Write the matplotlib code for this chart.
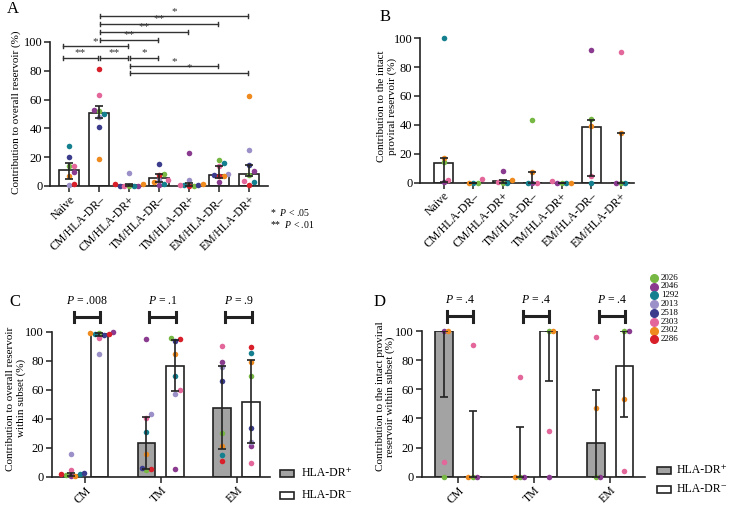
import numpy as np
import matplotlib
matplotlib.use('Agg')
import matplotlib.pyplot as plt
from matplotlib.lines import Line2D
from matplotlib.patches import Rectangle

plt.rcParams['font.family'] = ['Liberation Serif', 'DejaVu Serif']
plt.rcParams['mathtext.fontset'] = 'custom'
plt.rcParams['mathtext.it'] = 'Liberation Serif:italic'
plt.rcParams['mathtext.rm'] = 'Liberation Serif'

# subjects (order used in every value list below)
subjects = ['2026', '2046', '1292', '2013', '2518', '2303', '2302', '2286']
subj_colors = ['#76b843', '#8a3b8f', '#14808f', '#9c90c8', '#3b3d8c', '#e3679b', '#ef8a1e', '#d81f2a']
nan = np.nan

# ---- panel A: contribution to overall reservoir
a_cats = ['Naive', 'CM/HLA-DR–', 'CM/HLA-DR+', 'TM/HLA-DR–', 'TM/HLA-DR+', 'EM/HLA-DR–', 'EM/HLA-DR+']
a_points = [
    [13.7, 9.8, 28.1, 0.8, 19.9, 14.1, 7.2, 1.7],
    [52.2, 53.1, 50.3, 47.6, 40.9, 63.0, 18.9, 81.5],
    [0.0, 0.2, 0.0, 9.1, 0.3, 0.1, 1.2, 1.2],
    [8.4, 0.8, 1.7, 4.5, 15.5, 4.5, 2.9, 7.5],
    [0.3, 22.9, 0.5, 4.5, 1.0, 1.0, 1.5, 0.0],
    [18.3, 2.9, 16.0, 8.5, 7.5, 13.7, 6.8, 6.8],
    [7.9, 10.2, 2.9, 24.7, 14.8, 3.3, 62.4, 0.6],
]
a_median = [11.4, 50.8, 0.6, 5.5, 1.0, 7.6, 8.6]
a_q1 = [5.2, 46.9, 0.1, 2.5, 0.3, 5.5, 6.9]
a_q3 = [16.0, 55.4, 1.2, 8.0, 1.8, 13.7, 14.3]
# significance: (from category, to category, label)
a_sig = [(0, 1, '**'), (1, 2, '**'), (2, 3, '*'), (0, 2, '*'), (1, 3, '**'),
         (1, 4, '**'), (1, 5, '**'), (1, 6, '*'), (2, 5, '*'), (2, 6, '*')]
a_sig_level = [89, 89, 89, 97, 101.5, 107, 112.5, 118, 83.3, 78.5]

# ---- panel B: contribution to intact proviral reservoir
b_points = [
    [13.9, 0.3, 100.0, nan, nan, 1.4, 17.3, nan],
    [0.0, nan, 0.0, nan, nan, 2.6, 0.0, nan],
    [0.0, 8.3, 0.0, nan, nan, 0.3, 1.9, nan],
    [43.4, 0.0, 0.0, nan, nan, 0.0, 7.4, nan],
    [0.0, 0.0, 0.0, nan, nan, 1.2, 0.0, nan],
    [43.9, 91.9, 0.0, nan, nan, 4.6, 39.2, nan],
    [0.0, 0.0, 0.0, nan, nan, 90.2, 34.6, nan],
]
b_median = [13.4, 0.0, 0.8, 0.0, 0.0, 38.7, 0.0]
b_q1 = [0.5, 0.0, 0.0, 0.0, 0.0, 4.6, 0.0]
b_q3 = [17.3, 0.0, 1.9, 7.4, 0.0, 43.4, 34.6]

# ---- panel C / D: within subset, HLA-DR+ vs HLA-DR-
groups = ['CM', 'TM', 'EM']
c_pos = [
    [1.0, 0.5, 1.9, 15.6, 2.3, 4.6, 0.6, 1.9],
    [4.6, 94.7, 30.6, 43.0, 6.2, 40.7, 15.9, 5.1],
    [29.9, 78.9, 15.0, 75.9, 66.0, 90.1, 21.2, 10.8],
]
c_neg = [
    [99.0, 99.5, 98.1, 84.4, 97.7, 95.4, 99.4, 98.1],
    [95.4, 5.1, 69.4, 57.0, 93.8, 59.8, 84.4, 94.9],
    [69.7, 21.2, 85.1, 24.1, 33.8, 9.7, 78.9, 89.2],
]
c_pos_med, c_pos_q1, c_pos_q3 = [1.2, 23.0, 47.6], [0.5, 5.1, 19.1], [2.3, 41.0, 76.6]
c_neg_med, c_neg_q1, c_neg_q3 = [98.5, 76.6, 51.7], [97.0, 59.1, 23.0], [99.3, 94.3, 80.5]
c_p = ['.008', '.1', '.9']

d_pos = [
    [0.0, 100.0, nan, nan, nan, 9.9, 100.0, nan],
    [0.0, 0.0, nan, nan, nan, 68.6, 0.0, nan],
    [0.0, 0.0, nan, nan, nan, 95.6, 46.9, nan],
]
d_neg = [
    [0.0, 0.0, nan, nan, nan, 90.4, 0.0, nan],
    [100.0, 0.0, nan, nan, nan, 31.4, 100.0, nan],
    [100.0, 100.0, nan, nan, nan, 4.1, 53.3, nan],
]
d_pos_med, d_pos_q1, d_pos_q3 = [100.0, 0.0, 22.9], [54.9, 0.0, 0.0], [100.0, 34.3, 59.5]
d_neg_med, d_neg_q1, d_neg_q3 = [0.0, 100.0, 76.2], [0.0, 65.7, 40.8], [45.1, 100.0, 100.0]
d_p = ['.4', '.4', '.4']

INK = '#222222'
W, H = 732, 507


def px_axes(l, r, top, bottom):
    return fig.add_axes([l / W, 1 - bottom / H, (r - l) / W, (bottom - top) / H])


def style(ax):
    for s in ['top', 'right']:
        ax.spines[s].set_visible(False)
    for s in ['left', 'bottom']:
        ax.spines[s].set_linewidth(1.2)
        ax.spines[s].set_color(INK)
    ax.set_ylim(0, 100)
    ax.set_yticks([0, 20, 40, 60, 80, 100])
    ax.tick_params(direction='out', length=4, width=1.1, color=INK, labelsize=9, pad=1.5)
    ax.set_facecolor('none')


def swarm(ax, xc, vals, gap=4.6):
    # simple beeswarm in display pixels, dots may touch a little
    vals = np.asarray(vals, float)
    xs = np.full(len(vals), np.nan)
    disp = ax.transData.transform(np.column_stack([np.full(len(vals), xc), np.nan_to_num(vals)]))
    placed = []
    for k in np.argsort(np.nan_to_num(vals, nan=-1)):
        if np.isnan(vals[k]):
            continue
        px, py = disp[k]
        for step in range(40):
            off = ((step + 1) // 2) * gap * (1 if step % 2 else -1)
            if all(np.hypot(px + off - qx, py - qy) >= gap * 0.9 for qx, qy in placed):
                break
        placed.append((px + off, py))
        xs[k] = ax.transData.inverted().transform((px + off, py))[0]
    return xs


def draw_set(ax, xc, vals, med, q1, q3, width, face):
    ax.bar(xc, med, width=width, color=face, edgecolor=INK, linewidth=1.2, zorder=2)
    xs = swarm(ax, xc, vals)
    for k, v in enumerate(vals):
        if not np.isnan(v):
            ax.scatter(xs[k], v, s=16, color=subj_colors[k], linewidths=0, zorder=3, clip_on=False)
    ax.errorbar(xc, med, yerr=[[med - q1], [q3 - med]], fmt='none', ecolor=INK,
                elinewidth=1.2, capsize=3.2, capthick=1.2, zorder=4)


fig = plt.figure(figsize=(W / 100, H / 100), dpi=100)

# ---------------- A
axA = px_axes(50, 268, 42, 186)
style(axA)
axA.set_xlim(-0.63, 6.63)
x = np.arange(len(a_cats))
for i in x:
    draw_set(axA, i, a_points[i], a_median[i], a_q1[i], a_q3[i], 0.66, 'white')
axA.set_xticks(x)
axA.set_xticklabels(a_cats, rotation=45, ha='right', rotation_mode='anchor', fontsize=8.5)
for (i, j, lab), lev in zip(a_sig, a_sig_level):
    x0 = i - 0.2 if i == 0 else i + 0.03
    x1 = j - 0.03
    axA.plot([x0, x1], [lev, lev], color='#333', lw=1.0, clip_on=False)
    for xx in (x0, x1):
        axA.plot([xx, xx], [lev - 1.3, lev + 1.3], color='#333', lw=1.0, clip_on=False)
    axA.text((x0 + x1) / 2, lev + 0.3, lab, ha='center', va='bottom', fontsize=8, color='#333')
axA.text(-0.155, 0.51, 'Contribution to overall reservoir (%)', rotation=90, ha='center',
         va='center', transform=axA.transAxes, fontsize=8)
fig.text(13 / W, 1 - 9 / H, 'A', fontsize=12, ha='center', va='center')
fig.text(270 / W, 1 - 212 / H, r'*  $P$ < .05', fontsize=7, va='center')
fig.text(270 / W, 1 - 225 / H, r'**  $P$ < .01', fontsize=7, va='center')

# ---------------- B
axB = px_axes(420, 634, 38.3, 182.5)
style(axB)
axB.set_xlim(-0.8, 6.45)
for i in x:
    draw_set(axB, i, b_points[i], b_median[i], b_q1[i], b_q3[i], 0.64, 'white')
axB.set_xticks(x)
axB.set_xticklabels(a_cats, rotation=45, ha='right', rotation_mode='anchor', fontsize=8.5)
axB.text(-0.155, 0.53, 'Contribution to the intact\nproviral reservoir (%)', rotation=90,
         ha='center', va='center', transform=axB.transAxes, fontsize=8, linespacing=1.1)
fig.text(385 / W, 1 - 17 / H, 'B', fontsize=12, ha='center', va='center')


def within_panel(ax, pos, neg, pm, pq1, pq3, nm, nq1, nq3, pvals):
    style(ax)
    gx = np.arange(len(groups))
    for g in gx:
        draw_set(ax, g - 0.19, np.array(pos[g]), pm[g], pq1[g], pq3[g], 0.235, '#a3a3a3')
        draw_set(ax, g + 0.19, np.array(neg[g]), nm[g], nq1[g], nq3[g], 0.235, 'white')
        x0, x1 = g - 0.15, g + 0.2
        ax.plot([x0, x1], [110, 110], color=INK, lw=2.2, clip_on=False, solid_capstyle='butt')
        for xx in (x0, x1):
            ax.plot([xx, xx], [106.5, 113.5], color=INK, lw=2.2, clip_on=False)
        ax.text((x0 + x1) / 2, 121, r'$P$ = ' + pvals[g], ha='center', va='center', fontsize=8.5)
    ax.set_xticks(gx)
    ax.set_xticklabels(groups, rotation=45, ha='right', rotation_mode='anchor', fontsize=8.5)


# ---------------- C
axC = px_axes(51.7, 270, 331.7, 476.7)
axC.set_xlim(-0.44, 2.44)
within_panel(axC, c_pos, c_neg, c_pos_med, c_pos_q1, c_pos_q3,
             c_neg_med, c_neg_q1, c_neg_q3, c_p)
axC.text(-0.163, 0.54, 'Contribution to overall reservoir\nwithin subset (%)', rotation=90,
         ha='center', va='center', transform=axC.transAxes, fontsize=8, linespacing=1.1)
fig.text(15 / W, 1 - 302 / H, 'C', fontsize=12, ha='center', va='center')

# ---------------- D
axD = px_axes(421.7, 645, 331, 476.7)
axD.set_xlim(-0.48, 2.46)
within_panel(axD, d_pos, d_neg, d_pos_med, d_pos_q1, d_pos_q3,
             d_neg_med, d_neg_q1, d_neg_q3, d_p)
axD.text(-0.162, 0.55, 'Contribution to the intact proviral\nreservoir within subset (%)',
         rotation=90, ha='center', va='center', transform=axD.transAxes, fontsize=8,
         linespacing=1.1)
fig.text(380 / W, 1 - 302 / H, 'D', fontsize=12, ha='center', va='center')

# HLA-DR legends
for bx, tx, ys in [(280, 302, (473.3, 495)), (657, 677, (470, 489.3))]:
    for face, lab, yy in zip(['#a3a3a3', 'white'], ['HLA-DR⁺', 'HLA-DR⁻'], ys):
        fig.add_artist(Rectangle((bx / W, 1 - (yy + 3.5) / H), 14 / W, 7 / H, facecolor=face,
                                 edgecolor=INK, linewidth=1.2, transform=fig.transFigure))
        fig.text(tx / W, 1 - yy / H, lab, fontsize=8.5, va='center')

# subject legend
for k, (sid, c) in enumerate(zip(subjects, subj_colors)):
    yy = 1 - (277.7 + k * 8.8) / H
    fig.add_artist(Line2D([654 / W], [yy], marker='o', color=c, markersize=5.5,
                          linestyle='', transform=fig.transFigure))
    fig.text(661 / W, yy, sid, fontsize=6.5, va='center')

fig.savefig('out.png', dpi=100, facecolor='white')
